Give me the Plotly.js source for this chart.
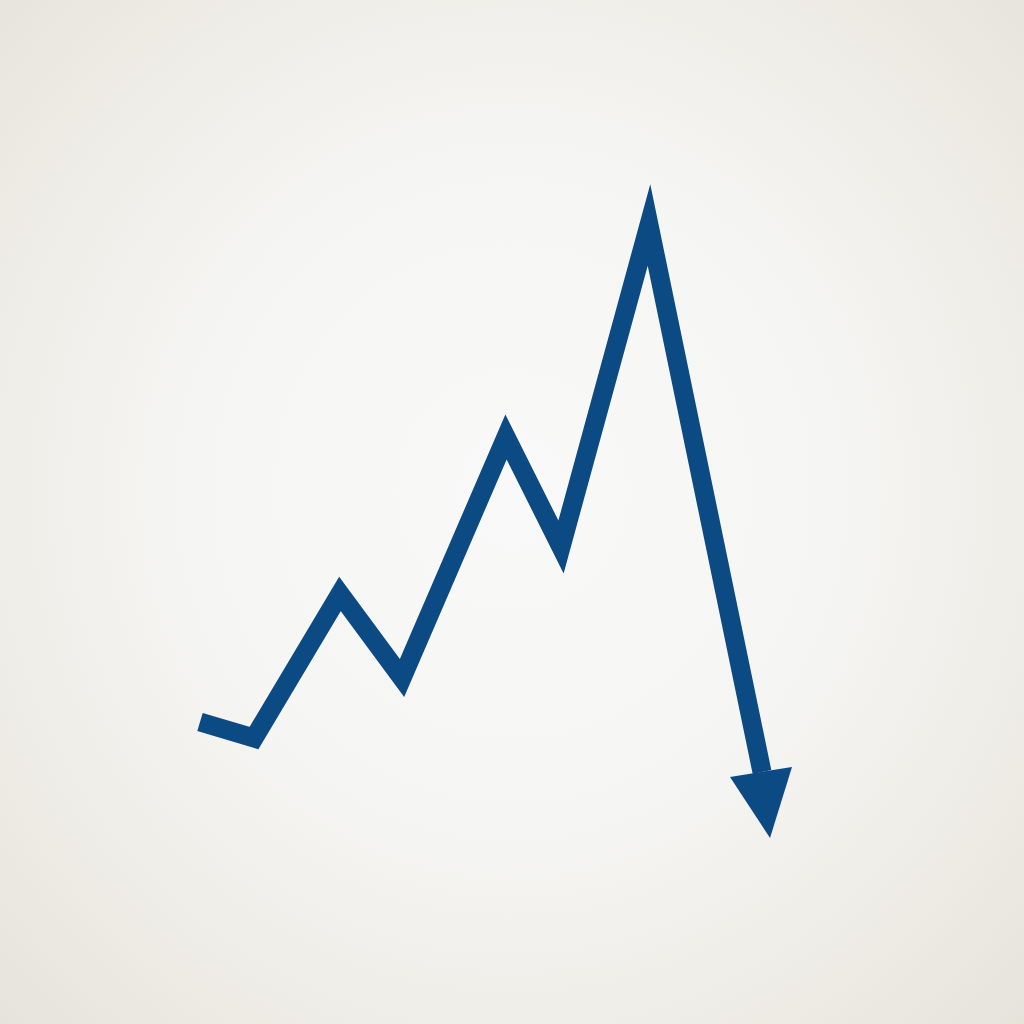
<!DOCTYPE html>
<html>
<head>
<meta charset="utf-8">
<script src="https://cdn.plot.ly/plotly-3.0.1.min.js"></script>
<style>
  html, body {
    margin: 0;
    padding: 0;
    width: 1024px;
    height: 1024px;
    overflow: hidden;
    background: radial-gradient(ellipse at 50% 48%, #f9f9f9 0%, #f5f5f3 45%, #eeece6 75%, #e6e3db 100%);
  }
  #chart { width: 1024px; height: 1024px; }
  #chart .js-line { stroke-linejoin: miter !important; stroke-miterlimit: 12; stroke-linecap: butt !important; }
</style>
</head>
<body>
<div id="chart"></div>
<script>
// zigzag values (x across, y up)
const lineX = [200, 254, 340, 402, 506, 561, 649, 762];
const lineY = [302, 286, 430, 346, 587, 477, 799, 252];

// arrowhead at the end of the line
const arrowX = [730, 792, 770, 730];
const arrowY = [247, 257, 186, 247];

const lineColor = '#0b4a83';

const target = document.getElementById('chart');

const trend = {
  x: lineX,
  y: lineY,
  type: 'scatter',
  mode: 'lines',
  line: { color: lineColor, width: 19 },
  hoverinfo: 'skip'
};

const head = {
  x: arrowX,
  y: arrowY,
  type: 'scatter',
  mode: 'lines',
  fill: 'toself',
  fillcolor: lineColor,
  line: { color: lineColor, width: 0 },
  hoverinfo: 'skip'
};

const layout = {
  width: 1024,
  height: 1024,
  margin: { l: 0, r: 0, t: 0, b: 0 },
  paper_bgcolor: 'rgba(0, 0, 0, 0)',
  plot_bgcolor: 'rgba(0, 0, 0, 0)',
  showlegend: false,
  xaxis: { range: [0, 1024], visible: false, fixedrange: true },
  yaxis: { range: [0, 1024], visible: false, fixedrange: true }
};

Plotly.newPlot(target, [trend, head], layout, { staticPlot: true, displayModeBar: false });
</script>
</body>
</html>
